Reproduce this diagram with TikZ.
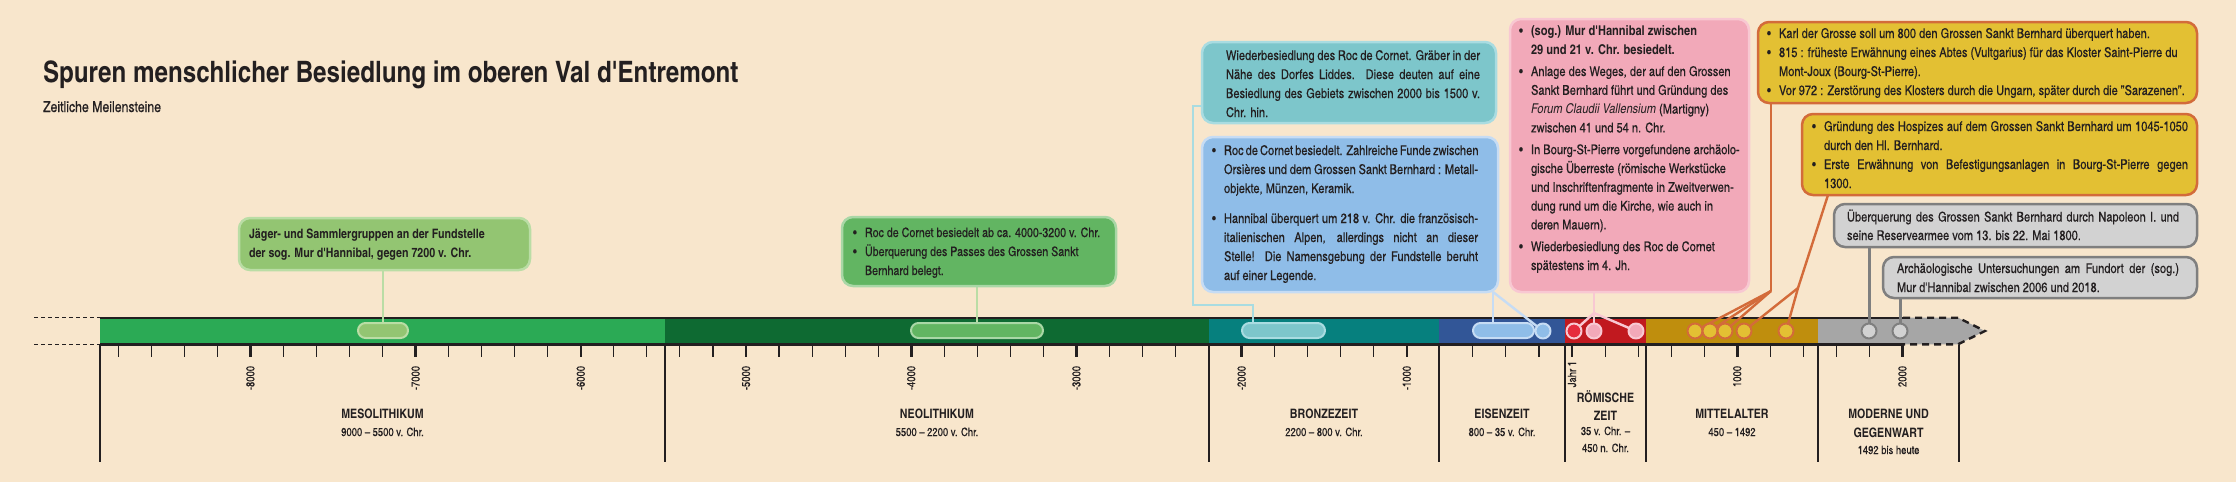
\documentclass[tikz,border=0pt]{standalone}
\usepackage{fontspec}
\setmainfont{texgyreheroscn}[Extension=.otf, UprightFont=*-regular, BoldFont=*-bold, ItalicFont=*-italic, BoldItalicFont=*-bolditalic, UprightFeatures={FakeBold=0.3}]
\newfontfamily\apf{texgyreheroscn}[Extension=.otf, UprightFont=*-regular, BoldFont=*-bold, Ligatures=TeXOff]
\newcommand\ap{{\apf'}}
\usetikzlibrary{calc}
\pgfdeclarelayer{bg}
\pgfsetlayers{bg,main}
\definecolor{bgc}{HTML}{F8E6CC}
\definecolor{ink}{HTML}{231F20}
\definecolor{mesoBar}{HTML}{2BAA55}
\definecolor{neoBar}{HTML}{0E6A32}
\definecolor{bronzeBar}{HTML}{06807E}
\definecolor{eisenBar}{HTML}{325697}
\definecolor{romBar}{HTML}{C1191F}
\definecolor{mittBar}{HTML}{BF8E0D}
\definecolor{modBar}{HTML}{A6A6A6}
\definecolor{fA}{HTML}{93C572}\definecolor{eA}{HTML}{BADDA5}
\definecolor{fB}{HTML}{62B562}\definecolor{eB}{HTML}{A9D7A6}
\definecolor{fC}{HTML}{7DC6CB}\definecolor{eC}{HTML}{A9DCE1}
\definecolor{fD}{HTML}{8FBDE8}\definecolor{eD}{HTML}{C6DCF4}
\definecolor{fE}{HTML}{F2A9B9}\definecolor{eE}{HTML}{F8C8D2}
\definecolor{redE}{HTML}{E62B3D}
\definecolor{fF}{HTML}{E3C033}\definecolor{eF}{HTML}{D36B3A}
\definecolor{fG}{HTML}{D2D2D2}\definecolor{eG}{HTML}{7F7F7F}
\newcommand\bu{\makebox[12pt][l]{\textbullet}}
\newcommand\ind{\hspace*{12pt}}
\newcommand\jl[2]{\makebox[#1][s]{#2}}
\begin{document}
\begin{tikzpicture}[x=1pt,y=-1pt,line join=round,
  every node/.style={inner sep=0pt,outer sep=0pt,text=ink},
  box/.style 2 args={draw=#2,fill=#1,line width=2.5pt,rounded corners=11pt,anchor=north west,rectangle},
  pill/.style 2 args={draw=#2,fill=#1,line width=2pt,rounded corners=7.5pt,minimum height=15pt,rectangle},
  evdot/.style 2 args={draw=#2,fill=#1,line width=2pt,circle,minimum size=15pt},
  txt/.style={anchor=base west,align=left,font=\fontsize{13.5}{19}\selectfont},
  yr/.style={anchor=east,rotate=90,font=\fontsize{11.5}{12}\selectfont},
  per/.style={anchor=base,font=\bfseries\fontsize{13}{15}\selectfont},
  dat/.style={anchor=base,font=\fontsize{11.5}{13}\selectfont},
  barln/.style={draw=ink,line width=2.4pt},
  sepln/.style={draw=ink,line width=1.1pt},
  grnln/.style={draw=eA,line width=1.6pt},
  tealln/.style={draw=eC,line width=2pt},
  bluln/.style={draw=eD,line width=2.4pt},
  pnkln/.style={draw=eE,line width=2.4pt},
  orgln/.style={draw=eF,line width=2.4pt},
  gryln/.style={draw=eG,line width=3pt}]
\useasboundingbox (0,0) rectangle (2236,482);
\begin{pgfonlayer}{bg}
\fill[bgc] (0,0) rectangle (2236,482);
% bar segments
\fill[mesoBar] (100,317.7) rectangle (665,344.3);
\fill[neoBar] (665,317.7) rectangle (1209,344.3);
\fill[bronzeBar] (1209,317.7) rectangle (1439,344.3);
\fill[eisenBar] (1439,317.7) rectangle (1565,344.3);
\fill[romBar] (1565,317.7) rectangle (1646,344.3);
\fill[mittBar] (1646,317.7) rectangle (1818,344.3);
\fill[modBar] (1818,317.7) -- (1958,317.7) -- (1985,331) -- (1958,344.3) -- (1818,344.3) -- cycle;
\draw[barln] (100,317.7) -- (1903,317.7);
\draw[barln] (100,344.3) -- (1903,344.3);
\draw[barln,dash pattern=on 7pt off 5pt] (1903,317.7) -- (1958,317.7) -- (1985,331) -- (1958,344.3) -- (1903,344.3);
\draw[draw=ink,line width=1pt,dash pattern=on 4pt off 3pt] (34,317.7) -- (100,317.7);
\draw[draw=ink,line width=1pt,dash pattern=on 4pt off 3pt] (34,344.3) -- (100,344.3);
% separators
\foreach \sx in {100,665,1209,1439,1565,1646,1818,1959}{\draw[sepln] (\sx,345) -- (\sx,462);}
% ticks
\foreach \i in {-44,...,10}{
  \pgfmathsetmacro\tx{1572+33.04*\i}
  \pgfmathtruncatemacro\tm{mod(abs(\i),5)}
  \ifnum\tm=0 \draw[draw=ink,line width=2.6pt] (\tx,345) -- (\tx,357);
  \else \draw[draw=ink,line width=1.1pt] (\tx,345) -- (\tx,357); \fi
}
\end{pgfonlayer}
% title
\node[anchor=base west,font=\bfseries\fontsize{29.5}{33}\selectfont] (title) at (43,82) {Spuren menschlicher Besiedlung im oberen Val d\ap Entremont};
\node[anchor=base west,font=\fontsize{15}{17}\selectfont] (subtitle) at (43,112) {Zeitliche Meilensteine};
% year labels
\node[yr] (y8) at (250.4,366) {-8000};
\node[yr] (y7) at (415.6,366) {-7000};
\node[yr] (y6) at (580.8,366) {-6000};
\node[yr] (y5k) at (746,366) {-5000};
\node[yr] (y4k) at (911.2,366) {-4000};
\node[yr] (y3k) at (1076.4,366) {-3000};
\node[yr] (y2k) at (1241.6,366) {-2000};
\node[yr] (y1k) at (1406.8,366) {-1000};
\node[yr] (y0) at (1572,361) {Jahr 1};
\node[yr] (yp1) at (1737.2,366) {1000};
\node[yr] (yp2) at (1902.4,366) {2000};
% period labels
\node[per] (pa1) at (382.5,418) {MESOLITHIKUM};
\node[dat] (pa2) at (382.5,436) {9000 – 5500 v. Chr.};
\node[per] (pb1) at (937,418) {NEOLITHIKUM};
\node[dat] (pb2) at (937,436) {5500 – 2200 v. Chr.};
\node[per] (pc1) at (1324,418) {BRONZEZEIT};
\node[dat] (pc2) at (1324,436) {2200 – 800 v. Chr.};
\node[per] (pd1) at (1502,418) {EISENZEIT};
\node[dat] (pd2) at (1502,436) {800 – 35 v. Chr.};
\node[per] (pe1) at (1605.5,402) {RÖMISCHE};
\node[per] (pe2) at (1605.5,420) {ZEIT};
\node[dat] (pe3) at (1605.5,435) {35 v. Chr. –};
\node[dat] (pe4) at (1605.5,452) {450 n. Chr.};
\node[per] (pf1) at (1732,418) {MITTELALTER};
\node[dat] (pf2) at (1732,436) {450 – 1492};
\node[per] (pg1) at (1888.5,418) {MODERNE UND};
\node[per] (pg2) at (1888.5,437) {GEGENWART};
\node[dat] (pg3) at (1888.5,454) {1492 bis heute};
% boxes
\node[box={fA}{eA},minimum width=291pt,minimum height=52pt] (b1) at (239,218) {};
\node[box={fB}{eB},minimum width=274pt,minimum height=69pt] (b2) at (842,217) {};
\node[box={fC}{eC},minimum width=294pt,minimum height=81pt] (b3) at (1202,42) {};
\node[box={fD}{eD},minimum width=296pt,minimum height=155pt] (b4) at (1202,137) {};
\node[box={fE}{eE},minimum width=239pt,minimum height=273pt] (b5) at (1510,19) {};
\node[box={fF}{eF},minimum width=439pt,minimum height=81pt] (b6) at (1758,22) {};
\node[box={fF}{eF},minimum width=395pt,minimum height=81pt] (b7) at (1802,114) {};
\node[box={fG}{eG},minimum width=363pt,minimum height=43pt] (b8) at (1834,204) {};
\node[box={fG}{eG},minimum width=314pt,minimum height=41pt] (b9) at (1883,257) {};
% texts (anchored at the baseline of their last line)
\node[txt,font=\bfseries\fontsize{13}{19}\selectfont] (t1) at (249,257) {Jäger- und Sammlergruppen an der Fundstelle\\der sog. Mur d\ap Hannibal, gegen 7200 v. Chr.};
\node[txt,font=\fontsize{13}{19}\selectfont] (t2) at (853,275) {\bu Roc de Cornet besiedelt ab ca. 4000-3200 v. Chr.\\\bu Überquerung des Passes des Grossen Sankt\\\ind Bernhard belegt.};
\node[txt] (t3) at (1226,117) {\jl{254pt}{Wiederbesiedlung des Roc de Cornet. Gräber in der}\\\jl{254pt}{Nähe des Dorfes Liddes. Diese deuten auf eine}\\\jl{254pt}{Besiedlung des Gebiets zwischen 2000 bis 1500 v.}\\Chr. hin.};
\node[txt] (t4) at (1212,280) {\bu\jl{254pt}{Roc de Cornet besiedelt. Zahlreiche Funde zwischen}\\\ind\jl{254pt}{Orsières und dem Grossen Sankt Bernhard : Metall-}\\\ind objekte, Münzen, Keramik.\\[11pt]\bu\jl{254pt}{Hannibal überquert um 218 v. Chr. die französisch-}\\\ind\jl{254pt}{italienischen Alpen, allerdings nicht an dieser}\\\ind\jl{254pt}{Stelle! Die Namensgebung der Fundstelle beruht}\\\ind auf einer Legende.};
\node[txt,font=\fontsize{13.5}{18.8}\selectfont] (t5) at (1519,270) {\bu\textbf{(sog.) Mur d\ap Hannibal zwischen}\\\ind\textbf{29 und 21 v. Chr. besiedelt.}\\[3pt]\bu Anlage des Weges, der auf den Grossen\\\ind Sankt Bernhard führt und Gründung des\\\ind\textit{Forum Claudii Vallensium} (Martigny)\\\ind zwischen 41 und 54 n. Chr.\\[3pt]\bu In Bourg-St-Pierre vorgefundene archäolo-\\\ind gische Überreste (römische Werkstücke\\\ind und Inschriftenfragmente in Zweitverwen-\\\ind dung rund um die Kirche, wie auch in\\\ind deren Mauern).\\[3pt]\bu Wiederbesiedlung des Roc de Cornet\\\ind spätestens im 4. Jh.};
\node[txt] (t6) at (1767,95) {\bu Karl der Grosse soll um 800 den Grossen Sankt Bernhard überquert haben.\\\bu 815 : früheste Erwähnung eines Abtes (Vultgarius) für das Kloster Saint-Pierre du\\\ind Mont-Joux (Bourg-St-Pierre).\\\bu Vor 972 : Zerstörung des Klosters durch die Ungarn, später durch die "Sarazenen".};
\node[txt] (t7) at (1812,188) {\bu\jl{364pt}{Gründung des Hospizes auf dem Grossen Sankt Bernhard um 1045-1050}\\\ind durch den Hl. Bernhard.\\\bu\jl{364pt}{Erste Erwähnung von Befestigungsanlagen in Bourg-St-Pierre gegen}\\\ind 1300.};
\node[txt,font=\fontsize{13.5}{18.5}\selectfont] (t8) at (1847,240) {\jl{332pt}{Überquerung des Grossen Sankt Bernhard durch Napoleon I. und}\\seine Reservearmee vom 13. bis 22. Mai 1800.};
\node[txt] (t9) at (1897,292) {\jl{282pt}{Archäologische Untersuchungen am Fundort der (sog.)}\\Mur d\ap Hannibal zwischen 2006 und 2018.};
% markers on the bar
\node[pill={fA}{eA},minimum width=50pt] (p1) at (383,330.5) {};
\node[pill={fB}{eB},minimum width=132pt] (p2) at (977,330.5) {};
\node[pill={fC}{eC},minimum width=83pt] (p3) at (1283.5,330.5) {};
\node[pill={fD}{eD},minimum width=61pt] (p4) at (1503.5,330.5) {};
\node[evdot={fD}{eD}] (q4) at (1543,331) {};
\node[evdot={redE}{eE}] (r1) at (1574,331) {};
\node[evdot={fE}{eE}] (r2) at (1594,331) {};
\node[evdot={fE}{eE}] (r3) at (1636,331) {};
\node[evdot={fF}{eF}] (g1) at (1695,331) {};
\node[evdot={fF}{eF}] (g2) at (1710,331) {};
\node[evdot={fF}{eF}] (g3) at (1725,331) {};
\node[evdot={fF}{eF}] (g4) at (1744,331) {};
\node[evdot={fF}{eF}] (g5) at (1786,331) {};
\node[evdot={fG}{eG}] (n1) at (1869,331) {};
\node[evdot={fG}{eG}] (n2) at (1900,331) {};
% connectors
\coordinate (k3a) at (1193,305);
\coordinate (k3b) at (1253,305);
\coordinate (k4) at ([xshift=-5pt]b4.south east);
\coordinate (k5) at (1594,313);
\coordinate (k6) at (1771,291);
\coordinate (k7s) at ([xshift=26pt]b7.south west);
\coordinate (k7) at (1798,288);
\begin{pgfonlayer}{bg}
\draw[grnln] (p1.north) -- (p1.north |- b1.south);
\draw[grnln] (p2.north) -- (p2.north |- b2.south);
\draw[tealln] ([yshift=17pt]b3.south west) -| (k3a) -- (k3b) -- (k3b |- p3.north);
\draw[bluln] (k4) -- (k4 |- p4.north);
\draw[bluln] (k4) -- (q4);
\draw[pnkln] (r2 |- b5.south) -- (k5) -- (r2);
\draw[pnkln] (k5) -- (r1);
\draw[pnkln] (k5) -- (r3);
\draw[orgln] (k6 |- b6.south) -- (k6);
\draw[orgln] (k6) -- (g1);
\draw[orgln] (k6) -- (g2);
\draw[orgln] (k6) -- (g3);
\draw[orgln] (k7s) -- (k7) -- (g5);
\draw[orgln] (k7) -- (g4);
\draw[gryln] (n1 |- b8.south) -- (n1);
\draw[gryln] (n2 |- b9.south) -- (n2);
\end{pgfonlayer}
\end{tikzpicture}
\end{document}
